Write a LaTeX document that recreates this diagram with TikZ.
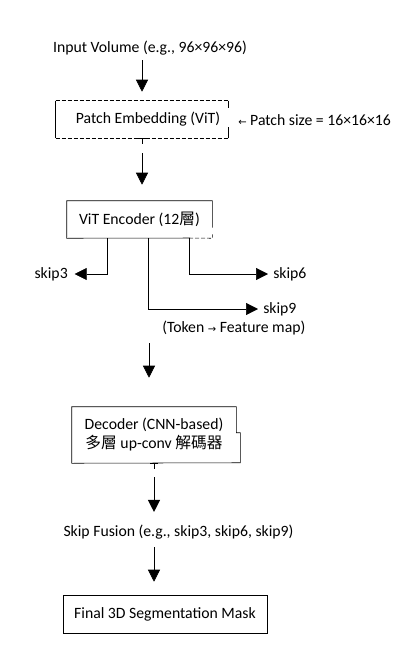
\documentclass[tikz,border=0pt]{standalone}
\usepackage{fontspec}
\setmainfont{Carlito}
\newfontfamily\cjk{Noto Sans CJK TC}
\newfontfamily\symb{DejaVu Sans}
\usetikzlibrary{arrows.meta}
\newcommand\arrowsym[1]{{\symb\fontsize{7.5}{8}\selectfont#1}}
\newcommand\tee[1]{\draw ([xshift=-3pt]#1) -- ([xshift=3pt]#1) (#1) -- ([yshift=-4pt]#1);}

\begin{document}
\begin{tikzpicture}[
		x=0.75pt, y=-0.75pt,
		every node/.style={font=\fontsize{11.8}{14.25}\selectfont, inner sep=0pt},
		box/.style={minimum height=27.75pt},
		arr/.style={-{Triangle[length=9pt,width=9pt]}},
		dashline/.style={dash pattern=on 3pt off 1.5pt}
		]
		
		\useasboundingbox (0,0) rectangle (400,653);
		
		\node (input) at (150,48) {Input Volume (e.g., 96×96×96)};
		\node[box, minimum width=129pt] (patch) at (142,119.5) {\hspace*{9pt}Patch Embedding (ViT)};
		\node[anchor=west] (psize) at (238,120) {\arrowsym{←} Patch size = 16×16×16};
		\node[box, minimum width=108.75pt] (enc) at (139.5,219.5) {ViT Encoder (12{\cjk 層})};
		\node[anchor=east] (skip3) at (68,274) {skip3};
		\node[anchor=west] (skip6) at (273,274) {skip6};
		\node[anchor=west] (skip9) at (263,309) {skip9};
		\node[anchor=west] (token) at (162,328) {(Token \arrowsym{→} Feature map)};
		\node[minimum width=123pt, minimum height=42pt, align=center] (dec) at (154,435) {Decoder (CNN-based)\\{\cjk 多層} up-conv {\cjk 解碼器}};
		\node (fusion) at (178.5,532) {Skip Fusion (e.g., skip3, skip6, skip9)};
		\node[draw, minimum width=153pt, minimum height=28.5pt] (final) at (165,614) {Final 3D Segmentation Mask};
		
		\coordinate (t3) at (107,238);
		\coordinate (t9) at (148,238);
		\coordinate (t6) at (189,238);
		\coordinate (gap) at (149,343);
		
		\draw[dashline] (patch.north west) -- (patch.north east) (patch.south west) -- (patch.south east);
		\draw (patch.north west) -- (patch.south west) (patch.north east) -- ++(0,7) (patch.south east) -- ++(0,-11);
		\tee{patch.south}
		
		\draw (t6) -- (enc.south west) -- (enc.north west) -- (enc.north east) -- ++(0,27);
		\draw[dashline] (t6) -- (enc.south east) -- ++(0,-4);
		
		\draw (dec.south west) -- (dec.north west) -- (dec.north east) -- ++(0,26) -- ++(4,0) -- ++(0,30) -- (dec.south west);
		\tee{dec.south}
		
		\draw[arr, shorten <=3.5pt, shorten >=6.75pt] (input.south -| patch.north) -- (patch.north);
		\draw[arr, shorten <=11.25pt, shorten >=12pt] (patch.south) -- (patch.south |- enc.north);
		\draw[arr, shorten >=5pt] (t3) |- (skip3);
		\draw[arr, shorten >=3.75pt] (t6) |- (skip6);
		\draw[arr, shorten >=3.75pt] (t9) |- (skip9);
		\draw[arr, shorten >=21.75pt] (gap) -- (gap |- dec.north);
		\draw[arr, shorten <=10.5pt, shorten >=9.5pt] (dec.south) -- (dec.south |- fusion.north);
		\draw[arr, shorten <=5.8pt, shorten >=9.75pt] (fusion.south -| dec.south) -- (dec.south |- final.north);
		
	\end{tikzpicture}
\end{document}
